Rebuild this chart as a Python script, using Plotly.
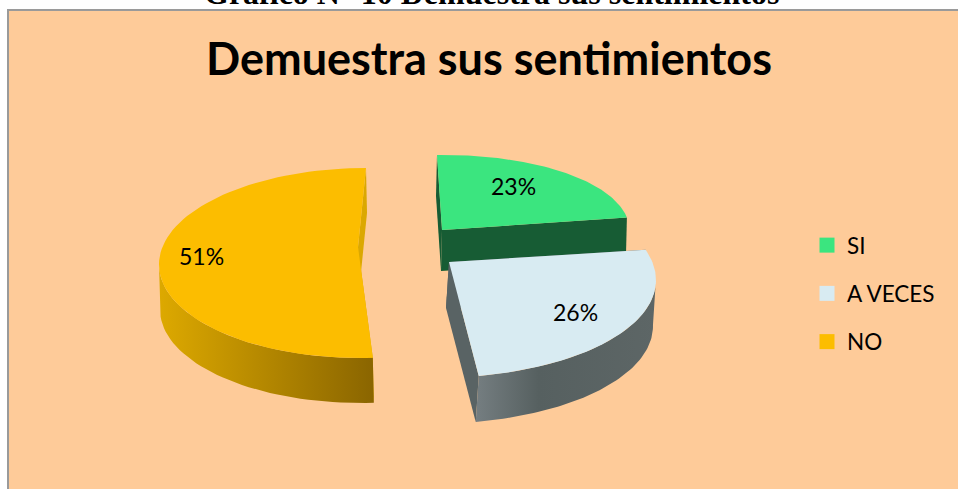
import numpy as np
import plotly.graph_objects as go

categories = ["SI", "A VECES", "NO"]
values = [23, 26, 51]
colors = ["#3BE57F", "#D8EBF2", "#FCBD00"]
title_text = "Demuestra sus sentimientos"
caption_text = "Gráfico N° 10 Demuestra sus sentimientos"

# fake 3D: one tilted ellipse per exploded slice, in pixel-like axis units
SLICE_GEOM = {
    "SI": dict(apex=(442, 230), center=(442, 230), ux=(187, -3), uy=(-5, -75), depth=(-1, 41)),
    "A VECES": dict(apex=(449, 262), center=(424.5, 276), ux=(228, -13.6), uy=(-40, -101), depth=(-3, 46)),
    "NO": dict(apex=(358, 247), center=(363, 263), ux=(204, 0), uy=(3, -95), depth=(1, 45)),
}
WALL_COLORS = {"SI": "#175C34", "A VECES": "#596364", "NO": "#DBA800"}
OUTER_GRADIENT = {
    "A VECES": [[0, "#757E81"], [0.35, "#566060"], [1, "#5D6666"]],
    "NO": [[0, "#DDA900"], [1, "#8A6500"]],
}
W, H = 958, 489


def arc_points(name, start, end, n=80):
    g = SLICE_GEOM[name]
    t = np.radians(np.linspace(start, end, n))
    x = g["center"][0] + np.sin(t) * g["ux"][0] + np.cos(t) * g["uy"][0]
    y = g["center"][1] + np.sin(t) * g["ux"][1] + np.cos(t) * g["uy"][1]
    return x, y


def polygon(x, y, color):
    return go.Scatter(x=list(x), y=list(y), mode="lines", fill="toself", fillcolor=color,
                      line=dict(width=0, color=color), hoverinfo="skip", showlegend=False)


def slice_traces(name, start, end, color):
    g = SLICE_GEOM[name]
    ax, ay = g["apex"]
    dx, dy = g["depth"]
    x, y = arc_points(name, start, end)
    wall = WALL_COLORS[name]
    traces = []
    # cut walls
    traces.append(polygon([x[0], x[0] + dx, ax + dx, ax], [y[0], y[0] + dy, ay + dy, ay], wall))
    traces.append(polygon([x[-1], x[-1] + dx, ax + dx, ax], [y[-1], y[-1] + dy, ay + dy, ay], wall))
    # outer wall, only the part of the arc facing the viewer
    if name in OUTER_GRADIENT:
        if name == "NO":
            keep = np.arange(len(x)) <= np.argmin(x)
        else:
            keep = np.arange(len(x)) >= np.argmax(x)
        ox, oy = x[keep], y[keep]
        traces.append(go.Scatter(
            x=list(ox) + list(ox[::-1] + dx), y=list(oy) + list(oy[::-1] + dy),
            mode="lines", fill="toself", line=dict(width=0),
            fillgradient=dict(type="horizontal", colorscale=OUTER_GRADIENT[name]),
            hoverinfo="skip", showlegend=False,
        ))
    # top face
    traces.append(go.Scatter(
        x=[ax] + list(x) + [ax], y=[ay] + list(y) + [ay],
        mode="lines", fill="toself", fillcolor=color, line=dict(width=0, color=color),
        name=name, showlegend=False,
        hovertemplate=f"{name}: {values[categories.index(name)]}%<extra></extra>",
    ))
    return traces


fig = go.Figure()

angle = 0
spans = {}
for cat, val in zip(categories, values):
    spans[cat] = (angle, angle + val * 3.6)
    angle += val * 3.6

for cat in ["SI", "NO", "A VECES"]:
    col = colors[categories.index(cat)]
    for tr in slice_traces(cat, spans[cat][0], spans[cat][1], col):
        fig.add_trace(tr)

# legend swatches
for cat, col in zip(categories, colors):
    fig.add_trace(go.Scatter(
        x=[None], y=[None], mode="markers", name=cat, legendgroup=cat,
        marker=dict(symbol="square", size=15, color=col),
    ))

label_pos = {"SI": (513, 186), "A VECES": (575, 312), "NO": (201, 256)}
for cat, val in zip(categories, values):
    fig.add_annotation(x=label_pos[cat][0], y=label_pos[cat][1], text=f"{val}%", showarrow=False,
                       font=dict(family="Lato", size=23, color="#000000"))

fig.add_annotation(x=489, y=58, text=f"<b>{title_text}</b>", showarrow=False,
                   font=dict(family="Lato", size=45, color="#000000"))
# caption sits above the frame and is cut by the top of the page, as in the source image
fig.add_annotation(xref="paper", yref="paper", x=491 / W, y=1 - 13 / H, yanchor="bottom",
                   text=f"<b>{caption_text}</b>", showarrow=False,
                   font=dict(family="Liberation Serif", size=32, color="#000000"))

fig.update_layout(
    width=W, height=H,
    paper_bgcolor="#FFFFFF",
    plot_bgcolor="#FFFFFF",
    margin=dict(l=0, r=0, t=0, b=0),
    xaxis=dict(range=[0, W], visible=False, fixedrange=True),
    yaxis=dict(range=[H, 0], visible=False, fixedrange=True),
    legend=dict(x=807 / W, y=1 - 224 / H, xanchor="left", yanchor="top",
                font=dict(family="Lato", size=22.5, color="#000000"),
                bgcolor="rgba(0,0,0,0)", tracegroupgap=16, itemwidth=30),
    shapes=[dict(type="rect", x0=8, y0=10, x1=W + 5, y1=H + 5, layer="below",
                 fillcolor="#FECB99", line=dict(color="#9A9A9A", width=2))],
)

fig.write_html("out.html", config={"displayModeBar": False},
               post_script="document.body.style.margin='0';document.body.style.overflow='hidden';")
